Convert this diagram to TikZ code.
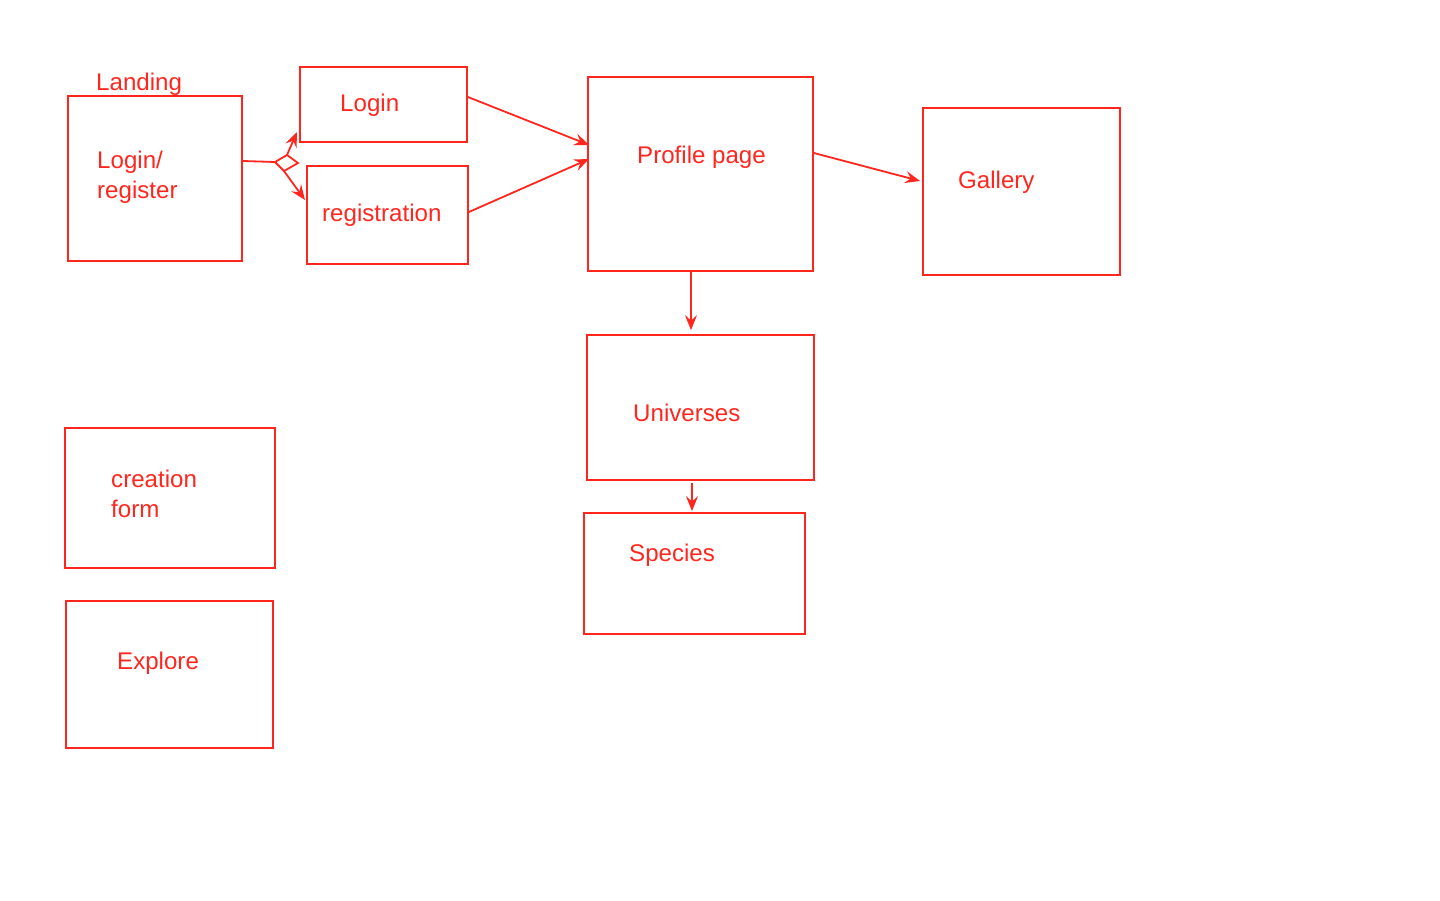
\documentclass[tikz,border=0pt]{standalone}
\usepackage{fontspec}
\setmainfont{Liberation Sans}
\usetikzlibrary{arrows.meta}
\definecolor{pen}{RGB}{255,38,30}
\tikzset{
  box/.style={draw=pen, line width=1.8pt, inner sep=0pt},
  lbl/.style={text=pen, anchor=base west, inner sep=0pt, font=\fontsize{24.1}{29}\selectfont},
  conn/.style={draw=pen, line width=1.8pt, -{Stealth[length=15pt,width=12pt,inset=5.5pt]}},
  plain/.style={draw=pen, line width=1.8pt, line join=miter}
}
\begin{document}
\begin{tikzpicture}[x=1pt,y=-1pt]
\useasboundingbox (0,0) rectangle (1440,900);
% boxes
\node[box, minimum width=174pt, minimum height=165pt] (landing) at (155,178.5) {};
\node[box, minimum width=167pt, minimum height=75pt] (login) at (383.5,104.5) {};
\node[box, minimum width=161pt, minimum height=98pt] (reg) at (387.5,215) {};
\node[box, minimum width=225pt, minimum height=194pt] (profile) at (700.5,174) {};
\node[box, minimum width=197pt, minimum height=167pt] (gallery) at (1021.5,191.5) {};
\node[box, minimum width=227pt, minimum height=145pt] (univ) at (700.5,407.5) {};
\node[box, minimum width=221pt, minimum height=121pt] (species) at (694.5,573.5) {};
\node[box, minimum width=210pt, minimum height=140pt] (creation) at (170,498) {};
\node[box, minimum width=207pt, minimum height=147pt] (explore) at (169.5,674.5) {};
% labels
\node[lbl] (tLanding) at (96,90) {Landing};
\node[lbl] (tLogin1) at (97,168.5) {Login/};
\node[lbl] (tLogin2) at (97,198) {register};
\node[lbl] (tLogin) at (340,111) {Login};
\node[lbl] (tReg) at (322,221) {registration};
\node[lbl] (tProfile) at (637,163) {Profile page};
\node[lbl] (tGallery) at (958,188) {Gallery};
\node[lbl] (tUniv) at (633,421) {Universes};
\node[lbl] (tSpecies) at (629,561) {Species};
\node[lbl] (tCreation1) at (111,487) {creation};
\node[lbl] (tCreation2) at (111,517) {form};
\node[lbl] (tExplore) at (117,669) {Explore};
% diamond fork
\coordinate (dl) at (275,162);
\coordinate (dt) at (287,155);
\coordinate (dr) at (298,163);
\coordinate (db) at (284,171);
\coordinate (aTop) at (297,132);
\coordinate (aBot) at (305,200);
\draw[plain] ([yshift=17.5pt]landing.east) -- (dl);
\draw[plain] (dl) -- (dt) -- (dr) -- (db) -- cycle;
\draw[conn] (dt) -- (aTop);
\draw[conn] (db) -- (aBot);
% connectors
\draw[conn] ([yshift=7.5pt]login.east) -- ([xshift=2pt,yshift=29pt]profile.west);
\draw[conn] ([yshift=3pt]reg.east) -- ([xshift=2pt,yshift=15pt]profile.west);
\draw[conn] ([yshift=21pt]profile.east) -- ([xshift=-2pt,yshift=10.5pt]gallery.west);
\draw[conn] ([xshift=-9.5pt]profile.south) -- ([xshift=-9.5pt,yshift=4pt]univ.north);
\draw[conn] ([xshift=-8.5pt,yshift=-2pt]univ.south) -- ([xshift=-2.5pt,yshift=1pt]species.north);
\end{tikzpicture}
\end{document}
